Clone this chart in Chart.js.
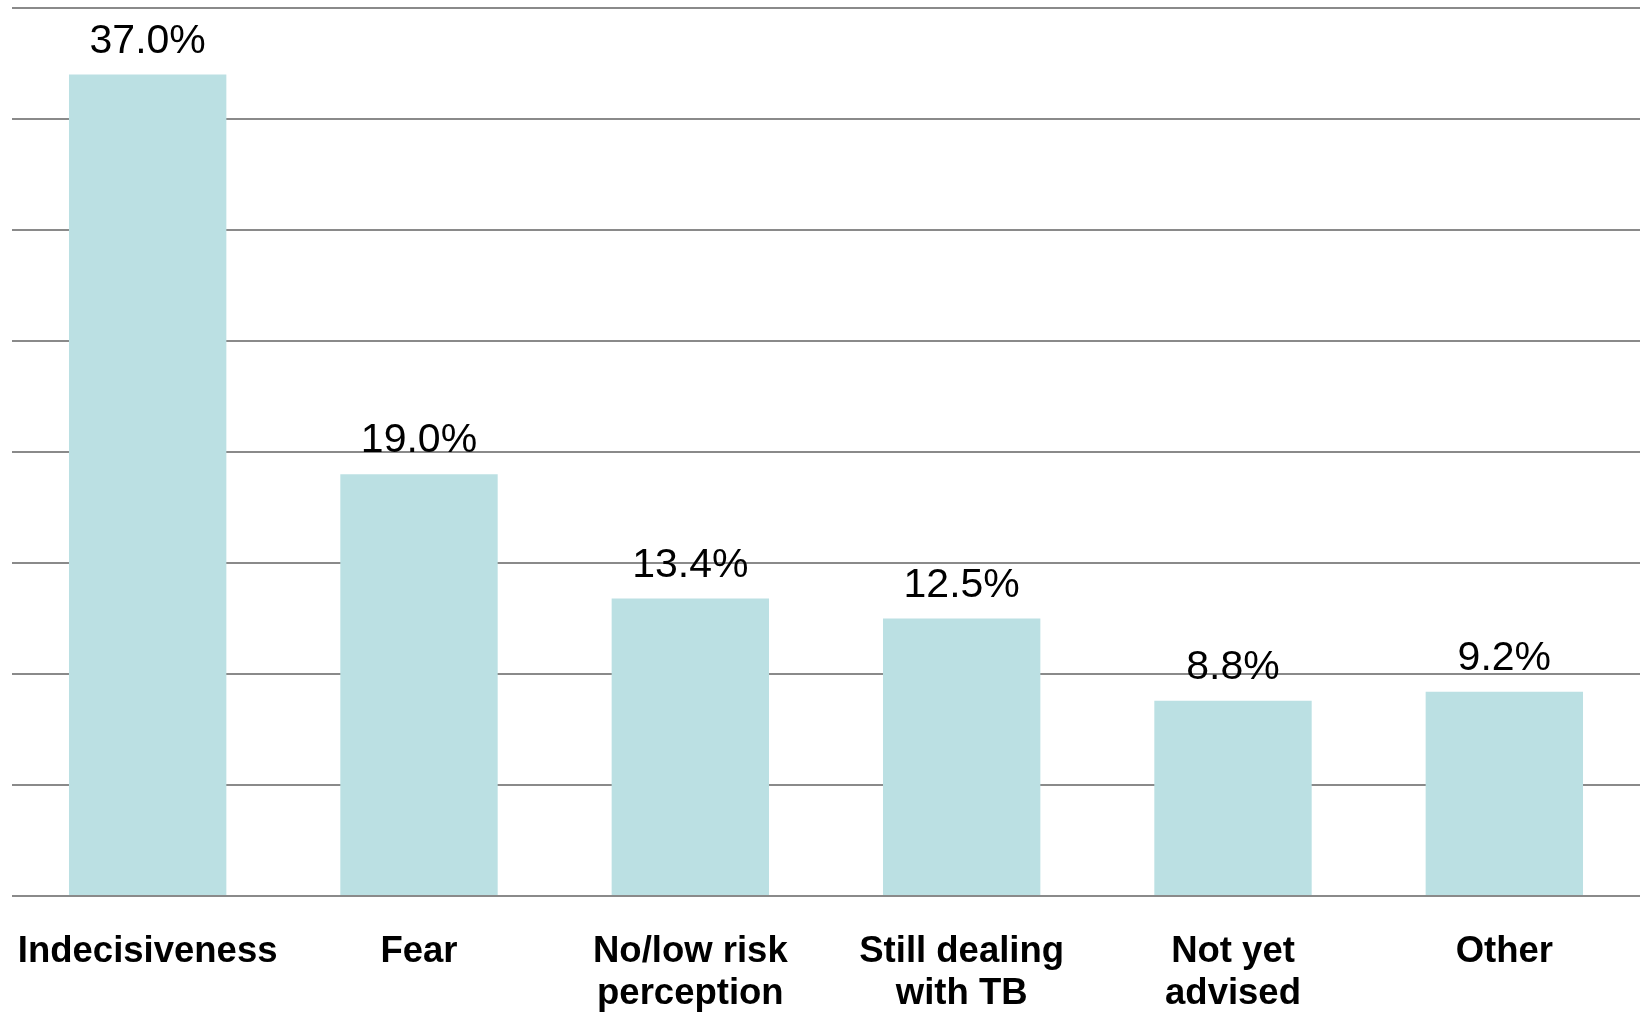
<!DOCTYPE html>
<html>
<head>
<meta charset="utf-8">
<script src="https://cdn.jsdelivr.net/npm/chart.js@4/dist/chart.umd.min.js"></script>
<style>
  html, body { margin: 0; padding: 0; background: #fff; }
  #wrap { width: 1640px; height: 1016px; }
</style>
</head>
<body>
<div id="wrap"><canvas id="barChart" width="1640" height="1016"></canvas></div>
<script>
const categories = [
    'Indecisiveness',
    'Fear',
    ['No/low risk', 'perception'],
    ['Still dealing', 'with TB'],
    ['Not yet', 'advised'],
    'Other'
];
const shares = [37.0, 19.0, 13.4, 12.5, 8.8, 9.2];
const yTicks = [0, 5, 10, 15, 20, 25, 30, 35, 40];

// values above each bar, one decimal and a percent sign
const valueLabels = {
    id: 'valueLabels',
    afterDatasetsDraw(chart) {
        const ctx = chart.ctx;
        const meta = chart.getDatasetMeta(0);
        ctx.save();
        ctx.font = '41px "Liberation Sans", Arial, sans-serif';
        ctx.fillStyle = '#000';
        ctx.textAlign = 'center';
        ctx.textBaseline = 'alphabetic';
        meta.data.forEach((bar, i) => {
            ctx.fillText(shares[i].toFixed(1) + '%', bar.x, bar.y - 22);
        });
        ctx.restore();
    }
};

document.addEventListener("DOMContentLoaded", () => {
    const canvas = document.getElementById("barChart");
    if (!canvas) return;

    try {
        new Chart(canvas, {
            type: 'bar',
            data: {
                labels: categories,
                datasets: [{
                    data: shares,
                    backgroundColor: '#bbe0e3',
                    borderWidth: 0,
                    categoryPercentage: 1.0,
                    barPercentage: 0.58
                }]
            },
            options: {
                responsive: false,
                animation: false,
                layout: {
                    padding: { top: 8, left: 12, right: 0, bottom: 0 }
                },
                plugins: {
                    legend: { display: false },
                    tooltip: { enabled: false }
                },
                scales: {
                    y: {
                        min: yTicks[0],
                        max: yTicks[yTicks.length - 1],
                        afterBuildTicks: (axis) => {
                            axis.ticks = yTicks.map(v => ({ value: v }));
                        },
                        afterFit: (axis) => { axis.width = 0; },
                        border: { display: false },
                        grid: {
                            color: '#8a8a8a',
                            lineWidth: 2,
                            drawTicks: false
                        },
                        ticks: { display: false }
                    },
                    x: {
                        afterFit: (axis) => {
                            axis.height = 120;
                            axis.paddingLeft = 0;
                            axis.paddingRight = 0;
                        },
                        border: { display: false },
                        grid: { display: false, drawTicks: false },
                        ticks: {
                            color: '#000',
                            padding: 35,
                            maxRotation: 0,
                            autoSkip: false,
                            font: {
                                family: '"Liberation Sans", Arial, sans-serif',
                                size: 36.5,
                                weight: 'bold',
                                lineHeight: 1.15
                            }
                        }
                    }
                }
            },
            plugins: [valueLabels]
        });
    } catch (e) {
        console.error("Error initializing chart:", e);
    }
});
</script>
</body>
</html>
